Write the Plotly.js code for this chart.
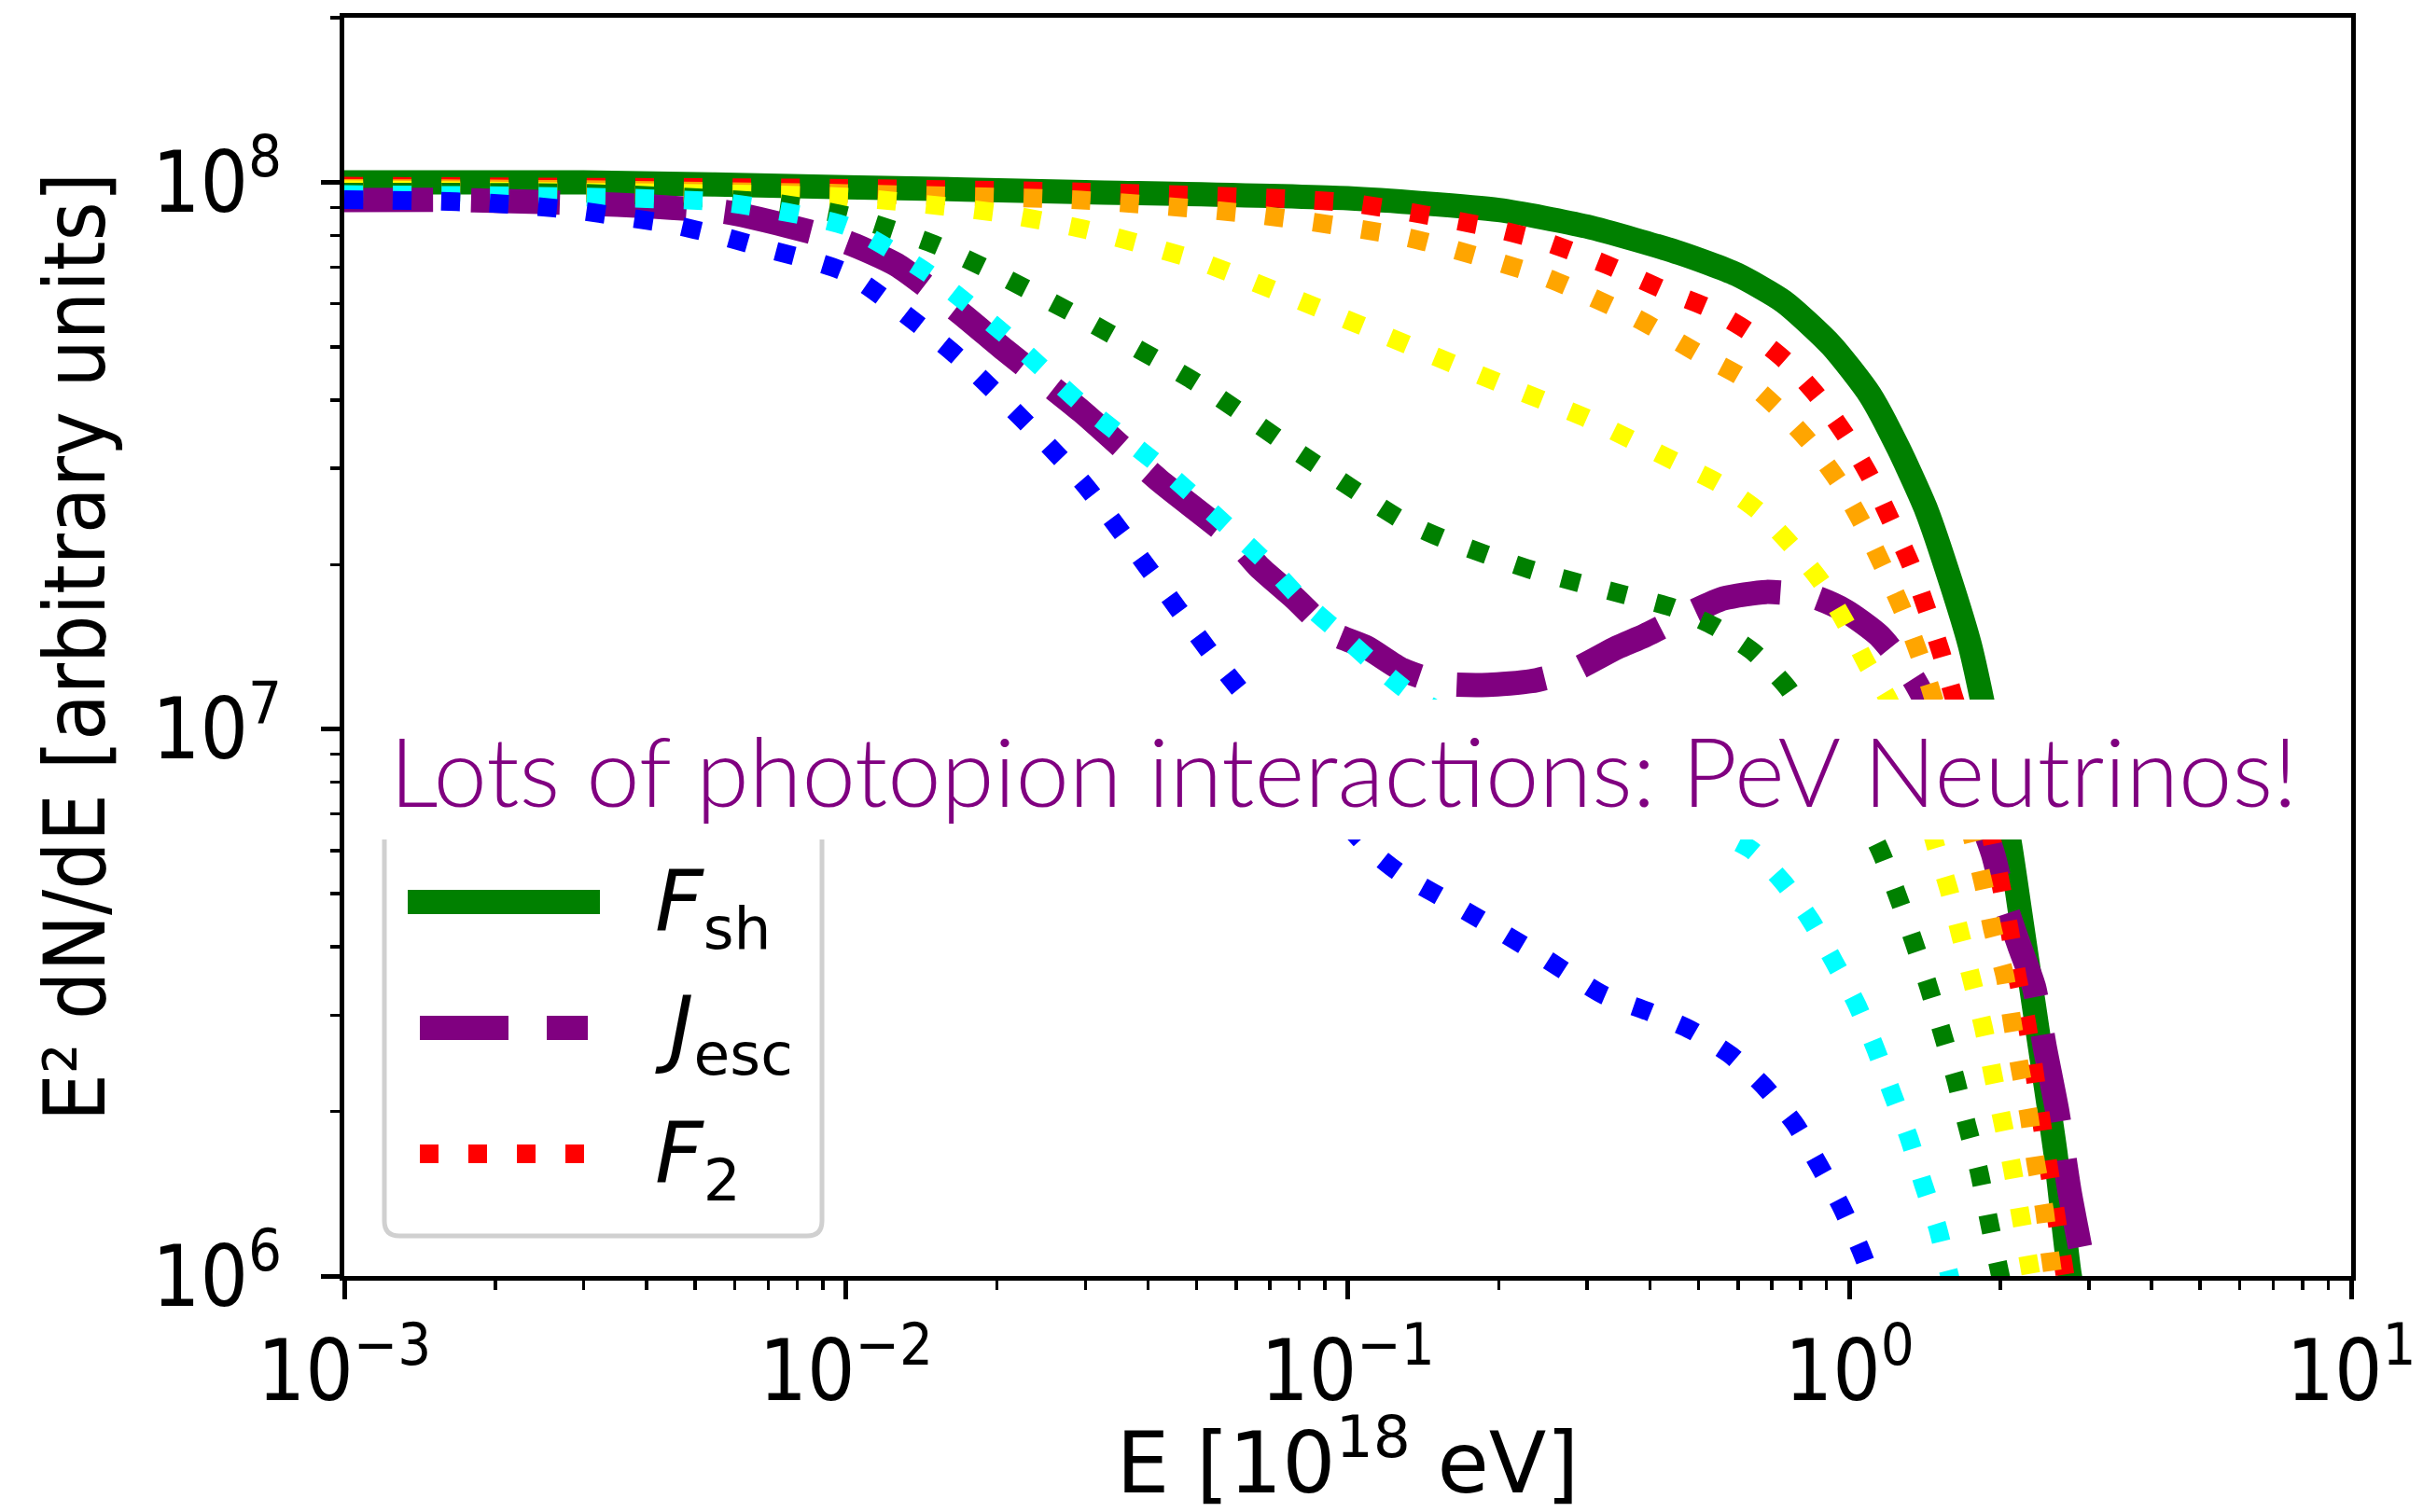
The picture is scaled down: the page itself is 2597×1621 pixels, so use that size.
<!DOCTYPE html>
<html>
<head>
<meta charset="utf-8">
<script src="https://cdn.plot.ly/plotly-3.0.1.min.js"></script>
<style>
  html, body { margin: 0; padding: 0; background: #ffffff; }
  #chart { width: 2597px; height: 1621px; }
</style>
</head>
<body>
<div id="chart"></div>
<script>
// Spectra E^2 dN/dE versus energy E [10^18 eV]

// F_sh : shock spectrum (solid green)
const fshE = [0.001, 0.003, 0.01, 0.03, 0.1, 0.2, 0.3, 0.458, 0.595, 0.740, 0.921, 1.098, 1.253, 1.425, 1.592, 1.736, 1.835, 2.086, 2.206, 2.302, 2.434, 2.574, 2.745, 2.85];
const fshY = [1.0e8, 1.0e8, 9.8e7, 9.6e7, 9.35e7, 8.9e7, 8.3e7, 7.43e7, 6.79e7, 6.05e7, 5.03e7, 4.09e7, 3.26e7, 2.51e7, 1.86e7, 1.43e7, 1.14e7, 6.21e6, 4.40e6, 3.38e6, 2.39e6, 1.68e6, 1.01e6, 8.5e5];

// J_esc : escaping flux (dashed purple)
const jescE = [0.001, 0.00173, 0.0035, 0.00577, 0.00766, 0.01, 0.0126, 0.0167, 0.0207, 0.0295, 0.0421, 0.06, 0.0667, 0.0785, 0.0926, 0.1092, 0.1285, 0.1564, 0.1905, 0.2319, 0.2825, 0.3439, 0.391, 0.4763, 0.5614, 0.6823, 0.8453, 0.984, 1.146, 1.336, 1.425, 1.65, 1.931, 2.042, 2.178, 2.332, 2.455, 2.596, 2.745, 2.902, 3.0];
const jescY = [9.28e7, 9.28e7, 9.1e7, 8.82e7, 8.32e7, 7.78e7, 7.07e7, 5.82e7, 4.94e7, 3.81e7, 2.85e7, 2.2e7, 1.976e7, 1.734e7, 1.502e7, 1.41e7, 1.284e7, 1.211e7, 1.205e7, 1.224e7, 1.284e7, 1.41e7, 1.483e7, 1.624e7, 1.734e7, 1.782e7, 1.748e7, 1.644e7, 1.483e7, 1.243e7, 1.118e7, 8.6e6, 5.93e6, 4.80e6, 4.03e6, 3.38e6, 2.60e6, 2.00e6, 1.43e6, 1.09e6, 9.0e5];

// Dotted family F_2 ... F_7
const f2E = [0.001, 0.003, 0.01, 0.03, 0.0998, 0.1864, 0.2473, 0.328, 0.436, 0.522, 0.631, 0.749, 0.867, 0.984, 1.098, 1.206, 1.322, 1.425, 1.523, 1.607, 1.8, 2.0, 2.086, 2.16, 2.254, 2.332, 2.403, 2.487, 2.568, 2.652, 2.75];
const f2Y = [9.84e7, 9.8e7, 9.75e7, 9.6e7, 9.18e7, 8.32e7, 7.79e7, 7.07e7, 6.3e7, 5.90e7, 5.33e7, 4.70e7, 4.05e7, 3.44e7, 2.90e7, 2.42e7, 2.01e7, 1.66e7, 1.38e7, 1.16e7, 8.3e6, 5.24e6, 4.28e6, 3.53e6, 2.92e6, 2.39e6, 1.97e6, 1.61e6, 1.33e6, 1.09e6, 8.8e5];

const f3E = [0.001, 0.003, 0.01, 0.0294, 0.0643, 0.1307, 0.2473, 0.378, 0.5088, 0.6157, 0.7248, 0.8415, 0.953, 1.063, 1.171, 1.280, 1.381, 1.475, 1.66, 1.851, 1.931, 2.042, 2.110, 2.187, 2.278, 2.352, 2.444, 2.512, 2.6];
const f3Y = [9.75e7, 9.7e7, 9.54e7, 9.28e7, 8.75e7, 7.94e7, 6.71e7, 5.63e7, 4.82e7, 4.38e7, 3.84e7, 3.31e7, 2.83e7, 2.37e7, 1.97e7, 1.64e7, 1.36e7, 1.13e7, 7.8e6, 5.19e6, 4.28e6, 3.53e6, 2.92e6, 2.40e6, 1.97e6, 1.61e6, 1.33e6, 1.09e6, 8.8e5];

const f4E = [0.001, 0.003, 0.01, 0.02, 0.03, 0.05, 0.1, 0.2, 0.3, 0.458, 0.551, 0.6567, 0.769, 0.878, 0.984, 1.086, 1.198, 1.35, 1.488, 1.579, 1.666, 1.758, 1.851, 1.931, 2.016, 2.110, 2.187, 2.278, 2.35];
const f4Y = [9.7e7, 9.6e7, 9.4e7, 8.8e7, 8.2e7, 7.2e7, 5.6e7, 4.3e7, 3.7e7, 3.06e7, 2.81e7, 2.51e7, 2.16e7, 1.86e7, 1.56e7, 1.31e7, 1.13e7, 8.4e6, 6.08e6, 5.08e6, 4.19e6, 3.45e6, 2.84e6, 2.34e6, 1.93e6, 1.58e6, 1.31e6, 1.06e6, 9.0e5];

const f5E = [0.001, 0.003, 0.007, 0.01, 0.015, 0.02, 0.03, 0.05, 0.08, 0.1274, 0.155, 0.1905, 0.235, 0.29, 0.3575, 0.4428, 0.539, 0.6455, 0.753, 0.95, 1.156, 1.248, 1.342, 1.438, 1.530, 1.624, 1.714, 1.811, 1.891, 1.973, 2.05];
const f5Y = [9.6e7, 9.55e7, 9.2e7, 8.7e7, 7.7e7, 6.8e7, 5.6e7, 4.3e7, 3.2e7, 2.42e7, 2.23e7, 2.08e7, 1.95e7, 1.85e7, 1.76e7, 1.67e7, 1.54e7, 1.38e7, 1.19e7, 8.5e6, 5.95e6, 4.95e6, 4.10e6, 3.38e6, 2.79e6, 2.31e6, 1.89e6, 1.56e6, 1.28e6, 1.06e6, 9.0e5];

const f6E = [0.001, 0.003, 0.00577, 0.01, 0.0145, 0.0207, 0.0294, 0.042, 0.06, 0.0695, 0.0806, 0.0948, 0.1115, 0.1322, 0.2, 0.3, 0.45, 0.637, 0.739, 0.8374, 0.933, 1.034, 1.126, 1.216, 1.314, 1.401, 1.497, 1.571, 1.65];
const f6Y = [9.5e7, 9.4e7, 9.18e7, 8.32e7, 6.84e7, 5.28e7, 3.94e7, 3.04e7, 2.27e7, 2.0e7, 1.73e7, 1.52e7, 1.33e7, 1.17e7, 9.3e6, 8.0e6, 7.0e6, 6.02e6, 5.24e6, 4.47e6, 3.75e6, 3.14e6, 2.61e6, 2.16e6, 1.79e6, 1.48e6, 1.23e6, 1.03e6, 8.6e5];

const f7E = [0.001, 0.0012, 0.0015, 0.00187, 0.00233, 0.00289, 0.0036, 0.00448, 0.00557, 0.0068, 0.01, 0.01673, 0.0294, 0.0542, 0.0619, 0.08, 0.1092, 0.1268, 0.1734, 0.2473, 0.3224, 0.396, 0.4826, 0.5814, 0.6795, 0.781, 0.871, 0.967, 1.056, 1.15];
const f7Y = [9.3e7, 9.28e7, 9.24e7, 9.18e7, 9.06e7, 8.89e7, 8.64e7, 8.38e7, 8.0e7, 7.6e7, 6.84e7, 4.79e7, 2.85e7, 1.35e7, 1.16e7, 8.5e6, 6.10e6, 5.46e6, 4.63e6, 3.81e6, 3.27e6, 3.05e6, 2.82e6, 2.53e6, 2.21e6, 1.89e6, 1.59e6, 1.33e6, 1.11e6, 9.0e5];

// Axis ticks
const xTickVals = [0.001, 0.01, 0.1, 1, 10];
const xTickText = ['10<sup>−3</sup>', '10<sup>−2</sup>', '10<sup>−1</sup>', '10<sup>0</sup>', '10<sup>1</sup>'];
const yTickVals = [1e6, 1e7, 1e8];
const yTickText = ['10<sup>6</sup>', '10<sup>7</sup>', '10<sup>8</sup>'];
const minorDigits = [2, 3, 4, 5, 6, 7, 8, 9];

const bannerText = 'Lots of photopion interactions: PeV Neutrinos!';
const legendLabels = ['<i>F</i><sub>sh</sub>', '<i>J</i><sub>esc</sub>', '<i>F</i><sub>2</sub>'];

// Minor tick positions: 2..9 within each decade shown
function minorTicks(decadeStarts, upper) {
  const out = [];
  decadeStarts.forEach(d => minorDigits.forEach(m => { if (m * d <= upper * 1.0000001) out.push(m * d); }));
  return out;
}

// Line styles
const solidStyle  = { color: '#008000', width: 26 };
const dashedStyle = { color: '#800080', width: 26, dash: '95px,41px' };
const dotted = c => ({ color: c, width: 20, dash: '20px,32px' });

function curve(xs, ys, line, name) {
  return {
    x: xs, y: ys, type: 'scatter', mode: 'lines', name: name,
    line: Object.assign({ shape: 'spline', smoothing: 0.6 }, line),
    hovertemplate: 'E=%{x}<br>%{y}<extra>' + name + '</extra>'
  };
}

const traces = [
  curve(fshE, fshY, solidStyle, 'F_sh'),
  curve(jescE, jescY, dashedStyle, 'J_esc'),
  curve(f2E, f2Y, dotted('#ff0000'), 'F_2'),
  curve(f3E, f3Y, dotted('#ffa500'), 'F_3'),
  curve(f4E, f4Y, dotted('#ffff00'), 'F_4'),
  curve(f5E, f5Y, dotted('#008000'), 'F_5'),
  curve(f6E, f6Y, dotted('#00ffff'), 'F_6'),
  curve(f7E, f7Y, dotted('#0000ff'), 'F_7')
];

// Plot frame in pixels
const FR = { l: 369, r: 2520, t: 19, b: 1368 };
const px = x => (x - FR.l) / (FR.r - FR.l);
const py = y => (FR.b - y) / (FR.b - FR.t);

// Legend frame with rounded corners
function roundRect(x0, y0, x1, y1, rad) {
  const P = (x, y) => px(x) + ',' + py(y);
  return 'M' + P(x0 + rad, y0) + ' L' + P(x1 - rad, y0) + ' Q' + P(x1, y0) + ' ' + P(x1, y0 + rad) +
         ' L' + P(x1, y1 - rad) + ' Q' + P(x1, y1) + ' ' + P(x1 - rad, y1) +
         ' L' + P(x0 + rad, y1) + ' Q' + P(x0, y1) + ' ' + P(x0, y1 - rad) +
         ' L' + P(x0, y0 + rad) + ' Q' + P(x0, y0) + ' ' + P(x0 + rad, y0) + ' Z';
}

const legendRows = [967, 1102, 1237];
const legendSamples = [
  { x0: 437, x1: 643, line: solidStyle },
  { x0: 450, x1: 630, line: dashedStyle },
  { x0: 450, x1: 630, line: dotted('#ff0000') }
];

const shapes = [{
  type: 'path', xref: 'paper', yref: 'paper', layer: 'above',
  path: roundRect(412, 879, 881, 1325, 16),
  line: { color: '#d0d0d0', width: 5 }, fillcolor: 'rgba(255,255,255,0.8)'
}];
legendSamples.forEach((s, i) => {
  shapes.push({
    type: 'line', xref: 'paper', yref: 'paper', layer: 'above',
    x0: px(s.x0), x1: px(s.x1), y0: py(legendRows[i]), y1: py(legendRows[i]),
    line: { color: s.line.color, width: s.line.width, dash: s.line.dash || 'solid' }
  });
});

const annotations = legendLabels.map((t, i) => ({
  xref: 'paper', yref: 'paper', x: px(700), y: py(legendRows[i] + 6),
  xanchor: 'left', yanchor: 'middle', showarrow: false, text: t,
  font: { family: 'DejaVu Sans', size: 90, color: '#000000' }
}));
annotations.push({
  xref: 'paper', yref: 'paper', x: px(1440), y: py(825),
  xanchor: 'center', yanchor: 'middle', showarrow: false,
  text: bannerText, align: 'center',
  font: { family: 'Lato', size: 103, color: '#800080', weight: 300 },
  bgcolor: '#ffffff', width: 2070, height: 150, borderpad: 0, borderwidth: 0
});

const condensedFont = { family: 'DejaVu Sans Condensed, DejaVu Sans', size: 90, color: '#000000' };
const plainFont = { family: 'DejaVu Sans', size: 90, color: '#000000' };

const axisCommon = {
  type: 'log', tickmode: 'array',
  ticks: 'outside', ticklen: 20, tickwidth: 5, tickcolor: '#000000',
  showline: true, linecolor: '#000000', linewidth: 5, mirror: true,
  showgrid: false, zeroline: false, automargin: false,
  tickfont: condensedFont
};
const minorCommon = { tickmode: 'array', ticks: 'outside', ticklen: 10, tickwidth: 3.5, tickcolor: '#000000', showgrid: false };

const layout = {
  width: 2597, height: 1621,
  margin: { l: FR.l, r: 2597 - FR.r, t: FR.t, b: 1621 - FR.b, pad: 0 },
  paper_bgcolor: '#ffffff', plot_bgcolor: '#ffffff',
  showlegend: false,
  font: plainFont,
  xaxis: Object.assign({}, axisCommon, {
    range: [-3, 1], tickvals: xTickVals, ticktext: xTickText,
    minor: Object.assign({ tickvals: minorTicks([0.001, 0.01, 0.1, 1], 10) }, minorCommon),
    title: { text: 'E [10<sup>18</sup> eV]', font: plainFont, standoff: 30 }
  }),
  yaxis: Object.assign({}, axisCommon, {
    range: [6, Math.log10(2e8)], tickvals: yTickVals, ticktext: yTickText,
    ticklabelstandoff: 24,
    minor: Object.assign({ tickvals: minorTicks([1e6, 1e7, 1e8], 2e8) }, minorCommon),
    title: { text: 'E² dN/dE [arbitrary units]', font: condensedFont, standoff: 22 }
  }),
  shapes: shapes,
  annotations: annotations
};

Plotly.newPlot('chart', traces, layout, { displayModeBar: false, staticPlot: true });
</script>
</body>
</html>
